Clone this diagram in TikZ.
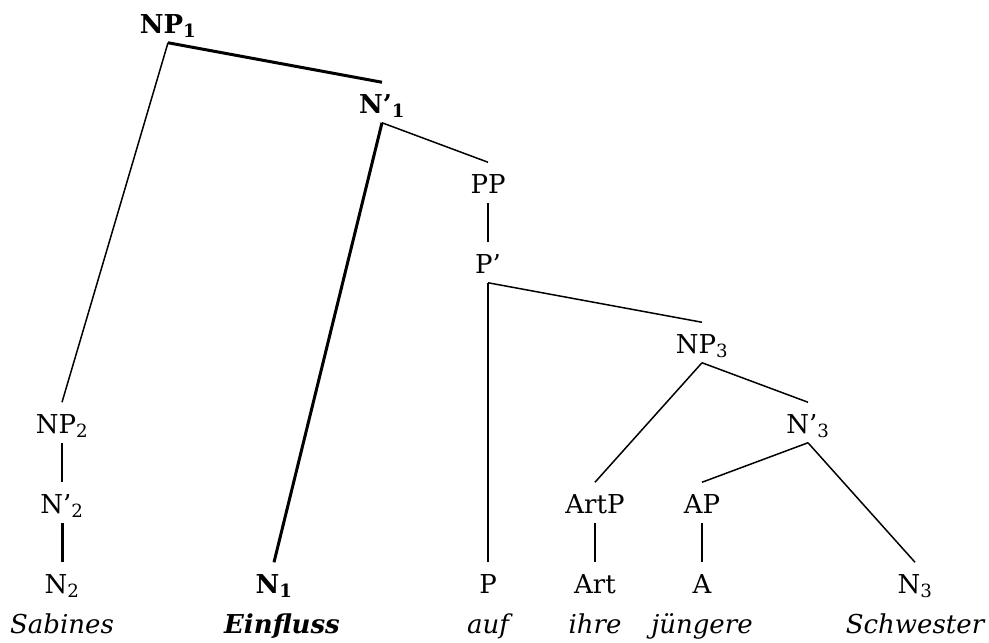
\documentclass[tikz,border=0pt]{standalone}
\usepackage{fontspec}
\setmainfont{DejaVu Serif}
\usepackage{tikz}

\begin{document}
\begin{tikzpicture}[x=1pt,y=-1pt,-,node distance=80pt,line width=1.5pt,
  cat node/.style={inner sep=0pt,text height=30pt,text depth=9pt,font=\fontsize{26}{30}\selectfont},
  head node/.style={cat node,font=\fontsize{26}{30}\selectfont\bfseries},
  word node/.style={cat node,font=\fontsize{26}{30}\selectfont\itshape},
  head word/.style={cat node,font=\fontsize{26}{30}\selectfont\bfseries\itshape},
  heavy/.style={line width=3pt}]
  \useasboundingbox (0,0) rectangle (989,643);
  \node[head node] (np1) at (168,22.5) {NP\textsubscript{1}};
  \node[head node] (n1bar) [below of=np1,xshift=214pt] {N’\textsubscript{1}};
  \node[cat node] (pp) [below of=n1bar,xshift=106pt] {PP};
  \node[cat node] (pbar) [below of=pp] {P’};
  \node[cat node] (np3) [below of=pbar,xshift=214pt] {NP\textsubscript{3}};
  \node[cat node] (n3bar) [below of=np3,xshift=106pt] {N’\textsubscript{3}};

  %3
  \node[cat node] (artp) [below of=n3bar,xshift=-213pt] {ArtP};
  \node[cat node] (ap) [below of=n3bar,xshift=-106pt] {AP};
  \node[cat node] (art) [below of=artp] {Art};
  \node[cat node] (a) [below of=ap] {A};
  \node[cat node] (n3) [node distance=160pt,below of=n3bar,xshift=107pt] {N\textsubscript{3}};

  %P
  \node[cat node] (p) [node distance=320pt,below of=pbar] {P};

  %1
  \node[head node] (n1) [node distance=480pt,below of=n1bar,xshift=-108pt] {N\textsubscript{1}};

  %2
  \node[cat node] (np2) [node distance=400pt,below of=np1,xshift=-106pt] {NP\textsubscript{2}};
  \node[cat node] (n2bar) [below of=np2] {N’\textsubscript{2}};
  \node[cat node] (n2) [below of=n2bar] {N\textsubscript{2}};

  % words
  \node[word node] (w1) [node distance=40pt,below of=n2] {Sabines};
  \node[head word] (w2) [node distance=40pt,below of=n1,xshift=8pt] {Einfluss};
  \node[word node] (w3) [node distance=40pt,below of=p] {auf};
  \node[word node] (w4) [node distance=40pt,below of=art] {ihre};
  \node[word node] (w5) [node distance=40pt,below of=a] {jüngere};
  \node[word node] (w6) [node distance=40pt,below of=n3] {Schwester};

  \path
    (np1.south) edge[heavy] (n1bar.north)
                edge (np2.north)
    (n1bar.south) edge[heavy] (n1.north)
                  edge (pp.north)
    (pp.south) edge (pbar.north)
    (pbar.south) edge (p.north)
                 edge (np3.north)
    (np3.south) edge (artp.north)
                edge (n3bar.north)
    (n3bar.south) edge (ap.north)
                  edge (n3.north)
    (artp.south) edge (art.north)
    (ap.south) edge (a.north)
    (np2.south) edge (n2bar.north)
    (n2bar.south) edge[heavy] (n2.north);
\end{tikzpicture}
\end{document}
